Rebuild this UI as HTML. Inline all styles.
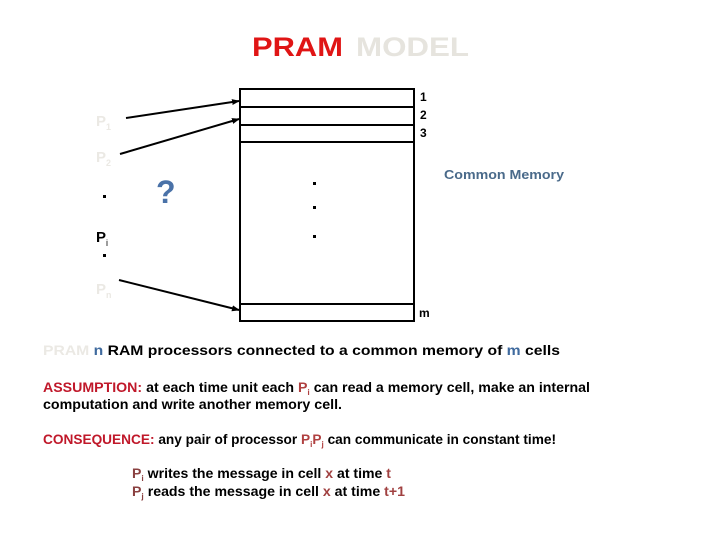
<!DOCTYPE html>
<html><head><meta charset="utf-8"><style>
html,body{margin:0;padding:0;background:#fff;width:720px;height:540px;overflow:hidden}
svg{display:block}
text{font-family:"Liberation Sans",sans-serif}
</style></head><body>
<svg width="720" height="540" viewBox="0 0 720 540" xmlns="http://www.w3.org/2000/svg">
<defs><marker id="a" markerWidth="8" markerHeight="8" refX="7" refY="4" orient="auto" markerUnits="userSpaceOnUse"><path d="M0,1 L8,4 L0,7 z" fill="#000"/></marker></defs>
<text x="252" y="56" font-size="27" font-weight="bold" fill="#e01515" textLength="91" lengthAdjust="spacingAndGlyphs">PRAM</text>
<text x="356" y="56" font-size="27" font-weight="bold" fill="#e6e4de" textLength="113" lengthAdjust="spacingAndGlyphs">MODEL</text>
<rect x="240" y="89" width="174" height="232" fill="none" stroke="#000" stroke-width="2"/>
<line x1="240" y1="107" x2="414" y2="107" stroke="#000" stroke-width="2"/>
<line x1="240" y1="125" x2="414" y2="125" stroke="#000" stroke-width="2"/>
<line x1="240" y1="142" x2="414" y2="142" stroke="#000" stroke-width="2"/>
<line x1="240" y1="304" x2="414" y2="304" stroke="#000" stroke-width="2"/>
<g font-size="12" fill="#000" font-weight="bold">
<text x="420" y="101">1</text><text x="420" y="119">2</text><text x="420" y="137">3</text><text x="419" y="317">m</text>
</g>
<rect x="313" y="182" width="3" height="3" fill="#000"/>
<rect x="313" y="206" width="3" height="3" fill="#000"/>
<rect x="313" y="235" width="3" height="3" fill="#000"/>
<line x1="126" y1="118" x2="239" y2="101" stroke="#000" stroke-width="2" marker-end="url(#a)"/>
<line x1="120" y1="154" x2="239" y2="119" stroke="#000" stroke-width="2" marker-end="url(#a)"/>
<line x1="119" y1="280" x2="239" y2="310" stroke="#000" stroke-width="2" marker-end="url(#a)"/>
<g font-weight="bold">
<text x="96" y="126" font-size="15" fill="#ebe9e4">P<tspan font-size="9" dy="4">1</tspan></text>
<text x="96" y="162" font-size="15" fill="#ebe9e4">P<tspan font-size="9" dy="4">2</tspan></text>
<text x="96" y="294" font-size="15" fill="#ebe9e4">P<tspan font-size="9" dy="4">n</tspan></text>
<text x="96" y="242" font-size="15" fill="#000">P<tspan font-size="9" dy="4" font-weight="normal">i</tspan></text>
</g>
<rect x="103" y="195" width="3" height="3" fill="#000"/>
<rect x="103" y="254" width="3" height="3" fill="#000"/>
<text x="156" y="203" font-size="32" font-weight="bold" fill="#4a72a8">?</text>
<text x="444" y="179" font-size="13" font-weight="bold" fill="#4a6a8a" textLength="120" lengthAdjust="spacingAndGlyphs">Common Memory</text>
<g font-size="14" font-weight="bold">
<text x="43" y="355" fill="#000" textLength="517" lengthAdjust="spacingAndGlyphs"><tspan fill="#ebe9e4">PRAM</tspan>  <tspan fill="#3f6a9e"> n</tspan> RAM processors connected to a common memory of <tspan fill="#3f6a9e">m</tspan> cells</text>
<text x="43" y="392" font-size="13.4" fill="#000" textLength="547" lengthAdjust="spacingAndGlyphs"><tspan fill="#c0182a">ASSUMPTION:</tspan>  at each time unit each  <tspan fill="#b04040">P</tspan><tspan fill="#b04040" font-size="8" dy="3">i</tspan><tspan dy="-3"> can read a memory cell, make an internal</tspan></text>
<text x="43" y="409" font-size="13.4" fill="#000" textLength="299" lengthAdjust="spacingAndGlyphs">computation and write another memory cell.</text>
<text x="43" y="444" font-size="13.4" fill="#000" textLength="513" lengthAdjust="spacingAndGlyphs"><tspan fill="#c0182a">CONSEQUENCE:</tspan> any pair of processor <tspan fill="#b04040">P</tspan><tspan fill="#b04040" font-size="8" dy="3">i</tspan><tspan fill="#b04040" dy="-3">P</tspan><tspan fill="#b04040" font-size="8" dy="3">j</tspan><tspan dy="-3"> can communicate in constant time!</tspan></text>
<text x="132" y="478" font-size="13.4" fill="#000" textLength="259" lengthAdjust="spacingAndGlyphs"><tspan fill="#8a4040">P</tspan><tspan fill="#8a4040" font-size="8" dy="3">i</tspan><tspan dy="-3"> writes the message in cell </tspan><tspan fill="#a04040">x</tspan> at time <tspan fill="#a04040">t</tspan></text>
<text x="132" y="496" font-size="13.4" fill="#000" textLength="273" lengthAdjust="spacingAndGlyphs"><tspan fill="#8a4040">P</tspan><tspan fill="#8a4040" font-size="8" dy="3">j</tspan><tspan dy="-3"> reads the message  in cell </tspan><tspan fill="#a04040">x</tspan> at time <tspan fill="#a04040">t+1</tspan></text>
</g>
</svg>
</body></html>
